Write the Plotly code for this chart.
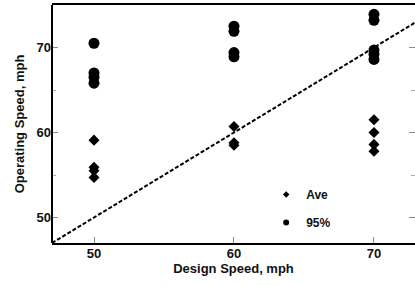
import plotly.graph_objects as go

# Data
design_ave = [50, 50, 50, 50, 60, 60, 60, 70, 70, 70, 70]
ave_speed = [59.1, 55.9, 55.5, 54.7, 60.7, 58.8, 58.5, 61.5, 60.0, 58.6, 57.8]

design_95 = [50, 50, 50, 50, 60, 60, 60, 60, 70, 70, 70, 70, 70]
p95_speed = [70.5, 67.0, 66.5, 65.8, 72.5, 71.9, 69.4, 68.9, 73.9, 73.2, 69.7, 69.2, 68.6]

equal_line = [47, 73]

FONT = "Liberation Sans, Arial, sans-serif"

fig = go.Figure()

fig.add_trace(go.Scatter(x=equal_line, y=equal_line, mode="lines",
                         line=dict(color="black", width=2, dash="4px,2px"),
                         showlegend=False, hoverinfo="skip"))

fig.add_trace(go.Scatter(x=design_ave, y=ave_speed, mode="markers",
                         marker=dict(symbol="diamond", size=8.5, color="black"),
                         showlegend=False))
fig.add_trace(go.Scatter(x=design_95, y=p95_speed, mode="markers",
                         marker=dict(symbol="circle", size=11, color="black"),
                         showlegend=False))

# legend entries with small markers
fig.add_trace(go.Scatter(x=[None], y=[None], mode="markers", name="Ave",
                         legendgroup="a",
                         marker=dict(symbol="diamond", size=5, color="black")))
fig.add_trace(go.Scatter(x=[None], y=[None], mode="markers", name="95%",
                         legendgroup="b",
                         marker=dict(symbol="circle", size=6, color="black")))

fig.update_layout(
    width=415, height=285,
    margin=dict(l=52, r=0, t=5, b=42),
    plot_bgcolor="white", paper_bgcolor="white",
    font=dict(family=FONT, size=13, color="#111", weight="bold"),
    legend=dict(x=0.59, y=0.265, xanchor="left", yanchor="top",
                bgcolor="rgba(0,0,0,0)", font=dict(size=12, weight="bold"),
                tracegroupgap=9, itemwidth=30),
    xaxis=dict(range=[47, 72.93], tickvals=[50, 60, 70], ticks="inside",
               ticklen=6, tickcolor="#888", tickwidth=1, automargin=False,
               ticklabelstandoff=-3,
               showline=True, linecolor="black", linewidth=2, mirror=True,
               showgrid=False, zeroline=False,
               title=dict(text="Design Speed, mph", standoff=2,
                          font=dict(size=13, weight="bold")),
               tickfont=dict(size=13, weight="bold")),
    yaxis=dict(range=[47, 75], tickvals=[50, 60, 70], ticks="inside",
               ticklen=6, tickcolor="#888", tickwidth=1, mirror="ticks",
               automargin=False,
               minor=dict(tickvals=[55, 65], ticks="inside", ticklen=4,
                          tickcolor="#aaa"),
               showline=False, showgrid=False, zeroline=False,
               title=dict(text="Operating Speed, mph", standoff=8,
                          font=dict(size=13, weight="bold")),
               tickfont=dict(size=13, weight="bold")),
    shapes=[dict(type="line", xref="paper", yref="paper", x0=0, x1=0,
                 y0=0, y1=1, line=dict(color="black", width=2))],
)

fig.write_html("out.html", config={"displayModeBar": False},
               post_script="document.body.style.margin='0';")
